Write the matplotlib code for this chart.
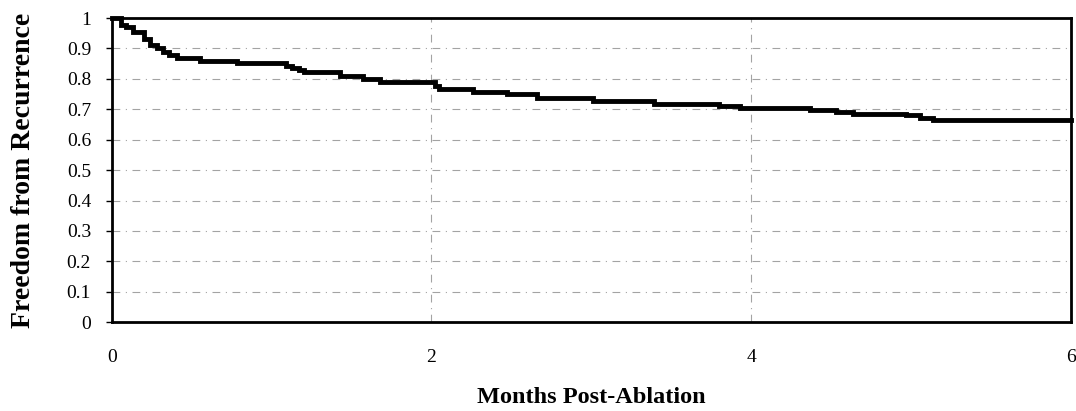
import matplotlib
matplotlib.use("Agg")
import matplotlib.pyplot as plt

# Kaplan-Meier style step curve
months = [0, 0.06, 0.09, 0.13, 0.20, 0.24, 0.28, 0.32, 0.36, 0.41, 0.55, 0.78,
          1.09, 1.13, 1.17, 1.20, 1.43, 1.57, 1.68, 2.02, 2.05, 2.26, 2.47, 2.66,
          3.01, 3.39, 3.80, 3.93, 4.37, 4.53, 4.64, 4.97, 5.06, 5.14, 6.0]
freedom = [1.0, 0.978, 0.970, 0.954, 0.932, 0.910, 0.900, 0.889, 0.878, 0.869, 0.860, 0.851,
           0.842, 0.835, 0.829, 0.823, 0.810, 0.799, 0.790, 0.778, 0.768, 0.757, 0.750, 0.738,
           0.728, 0.717, 0.711, 0.705, 0.697, 0.690, 0.686, 0.681, 0.672, 0.665, 0.665]

y_ticks = [0, 0.1, 0.2, 0.3, 0.4, 0.5, 0.6, 0.7, 0.8, 0.9, 1]
y_labels = ["0", "0.1", "0.2", "0.3", "0.4", "0.5", "0.6", "0.7", "0.8", "0.9", "1"]
x_ticks = [0, 2, 4, 6]
x_labels = ["0", "2", "4", "6"]

plt.rcParams['font.family'] = ['Liberation Serif', 'DejaVu Serif']

fig = plt.figure(figsize=(10.76, 4.11), dpi=100)
ax = fig.add_axes([0.104, 0.216, 0.891, 0.740])

# faint broken gridlines like the scan
for yv in y_ticks[1:-1]:
    ax.axhline(yv, color="0.4", lw=0.8, ls=(0, (7, 5, 1, 5)), alpha=0.6, zorder=1)
for xv in [2, 4]:
    ax.axvline(xv, color="0.4", lw=0.8, ls=(0, (7, 5, 1, 5)), alpha=0.6, zorder=1)

ax.step(months, freedom, where="post", color="black", lw=3.5, zorder=3,
        solid_joinstyle="miter", clip_on=False)

ax.set_xlim(0, 6)
ax.set_ylim(0, 1)
ax.set_yticks(y_ticks)
ax.set_yticklabels(y_labels, fontsize=14)
ax.set_xticks(x_ticks)
ax.set_xticklabels(x_labels, fontsize=14)
ax.tick_params(axis="y", direction="out", length=4, width=1, pad=11)
ax.tick_params(axis="x", length=0, pad=19)

for s in ax.spines.values():
    s.set_linewidth(2)
    s.set_color("black")

ax.set_xlabel("Months Post-Ablation", fontsize=17.5, fontweight="bold")
ax.set_ylabel("Freedom from Recurrence", fontsize=20, fontweight="bold")
ax.xaxis.set_label_coords(0.5, -0.212)
ax.yaxis.set_label_coords(-0.079, 0.5)

fig.savefig("out.png", dpi=100, facecolor="white")
